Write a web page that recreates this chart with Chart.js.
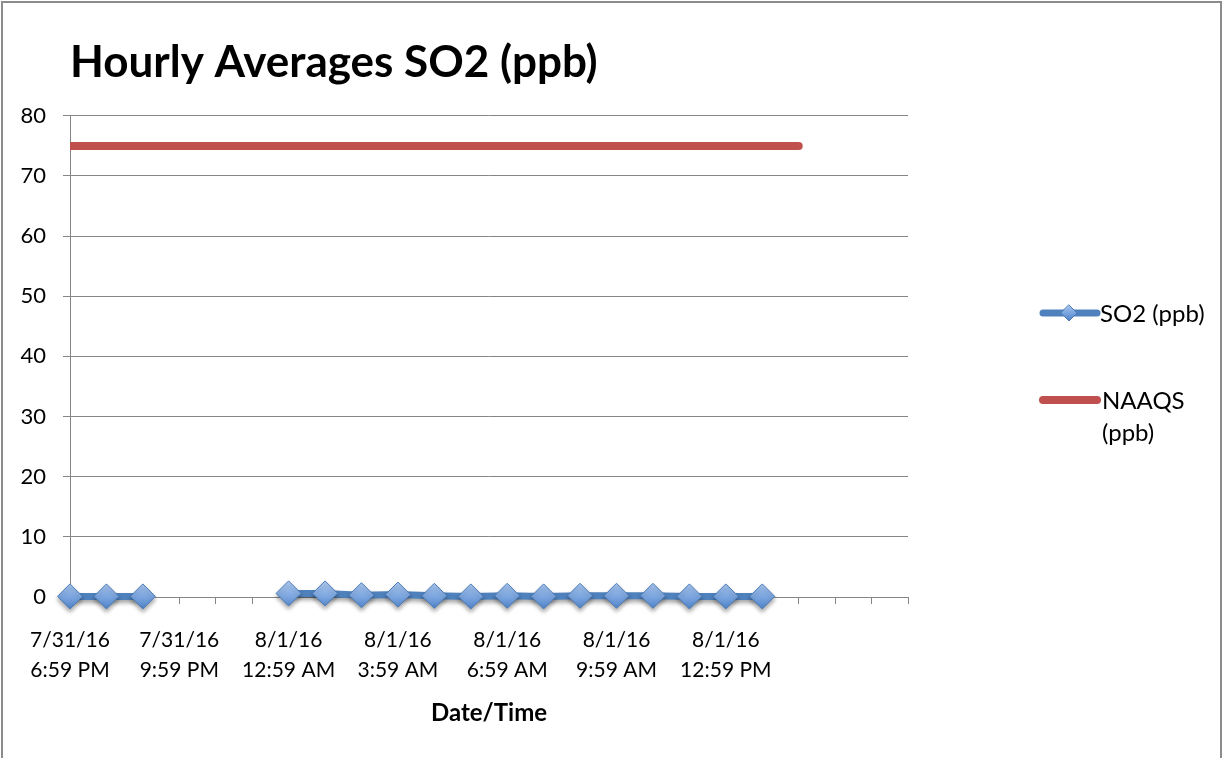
<!DOCTYPE html>
<html>
<head>
<meta charset="utf-8">
<script src="https://cdn.jsdelivr.net/npm/chart.js@4"></script>
<style>
  html, body { margin: 0; padding: 0; background: #fff; }
  #wrap { width: 1224px; height: 758px; position: relative; }
</style>
</head>
<body>
<div id="wrap"><canvas id="myChart" width="1224" height="758"></canvas></div>
<script>
// hourly categories (blank rows at the end of the sheet range)
var categories = [
  '7/31/16 6:59 PM', '7/31/16 7:59 PM', '7/31/16 8:59 PM', '7/31/16 9:59 PM',
  '7/31/16 10:59 PM', '7/31/16 11:59 PM', '8/1/16 12:59 AM', '8/1/16 1:59 AM',
  '8/1/16 2:59 AM', '8/1/16 3:59 AM', '8/1/16 4:59 AM', '8/1/16 5:59 AM',
  '8/1/16 6:59 AM', '8/1/16 7:59 AM', '8/1/16 8:59 AM', '8/1/16 9:59 AM',
  '8/1/16 10:59 AM', '8/1/16 11:59 AM', '8/1/16 12:59 PM', '8/1/16 1:59 PM',
  '8/1/16 2:59 PM', '', '', ''
];
var so2 = [0.1, 0.1, 0.1, null, null, null, 0.6, 0.6, 0.3, 0.4, 0.2, 0.1,
           0.2, 0.1, 0.2, 0.2, 0.2, 0.1, 0.1, 0.1, null, null, null, null];
var naaqs = [75, 75, 75, 75, 75, 75, 75, 75, 75, 75, 75, 75, 75, 75, 75, 75,
             75, 75, 75, 75, 75, null, null, null];
var labelEvery = 3;
var yTicks = { min: 0, max: 80, step: 10 };

var FONT = 'Lato, "Open Sans", sans-serif';
var BLUE = '#4F81BD';
var RED = '#C0504D';
var GRID = '#868686';

var ctx = document.getElementById('myChart').getContext('2d');

function diamondFill(y0, y1) {
  var g = ctx.createLinearGradient(0, y0, 0, y1);
  g.addColorStop(0, '#A7C6F0');
  g.addColorStop(0.5, '#7BA5DF');
  g.addColorStop(1, '#4C80C6');
  return g;
}

var frame = {
  id: 'frame',
  beforeDraw: function(chart) {
    var c = chart.ctx;
    c.save();
    c.strokeStyle = '#8c8c8c';
    c.lineWidth = 2;
    c.strokeRect(2, 2, 1219, 800);
    c.restore();
  },
  beforeDatasetDraw: function(chart, args) {
    if (args.index !== 0) return;
    var c = chart.ctx;
    c.save();
    c.shadowColor = 'rgba(0,0,0,0.35)';
    c.shadowBlur = 4;
    c.shadowOffsetY = 3;
  },
  afterDatasetDraw: function(chart, args) {
    if (args.index !== 0) return;
    chart.ctx.restore();
  }
};

var sideLegend = {
  id: 'sideLegend',
  afterDraw: function(chart) {
    var c = chart.ctx;
    c.save();
    c.lineCap = 'round';
    // SO2
    c.strokeStyle = BLUE;
    c.lineWidth = 7;
    c.beginPath(); c.moveTo(1043, 313); c.lineTo(1097, 313); c.stroke();
    c.fillStyle = diamondFill(305, 321);
    c.strokeStyle = '#4A7BB8';
    c.lineWidth = 1;
    c.beginPath();
    c.moveTo(1069, 305); c.lineTo(1077, 313); c.lineTo(1069, 321); c.lineTo(1061, 313);
    c.closePath(); c.fill(); c.stroke();
    // NAAQS
    c.strokeStyle = RED;
    c.lineWidth = 8;
    c.beginPath(); c.moveTo(1043, 400); c.lineTo(1097, 400); c.stroke();
    c.fillStyle = '#000';
    c.font = '24px ' + FONT;
    c.textBaseline = 'middle';
    c.fillText(chart.data.datasets[0].label, 1100, 314);
    var parts = chart.data.datasets[1].label.split(' ');
    c.fillText(parts[0], 1102, 401);
    c.fillText(parts[1], 1102, 433);
    c.restore();
  }
};

var chart = new Chart(ctx, {
  type: 'line',
  data: {
    labels: categories,
    datasets: [
      {
        label: 'SO2 (ppb)',
        data: so2,
        borderColor: BLUE,
        borderWidth: 7,
        backgroundColor: '#6E9CD8',
        pointStyle: 'rectRot',
        pointRadius: 12.5,
        pointBackgroundColor: diamondFill(584, 610),
        pointBorderColor: '#4A7BB8',
        pointBorderWidth: 1,
        spanGaps: false,
        clip: false,
        tension: 0
      },
      {
        label: 'NAAQS (ppb)',
        data: naaqs,
        borderColor: RED,
        borderWidth: 8,
        borderCapStyle: 'round',
        pointRadius: 0,
        clip: { left: 0, top: false, right: false, bottom: false },
        tension: 0
      }
    ]
  },
  options: {
    responsive: false,
    animation: false,
    layout: { padding: { left: 0, right: 316, top: 0, bottom: 0 } },
    plugins: {
      legend: { display: false },
      tooltip: { enabled: false },
      title: {
        display: true,
        fullSize: false,
        text: 'Hourly Averages SO2 (ppb)',
        align: 'start',
        color: '#000',
        font: { family: FONT, size: 44, weight: 'bold', lineHeight: 1.2 },
        padding: { top: 36, bottom: 27 }
      }
    },
    scales: {
      x: {
        offset: false,
        grid: { drawOnChartArea: false, drawTicks: true, tickLength: 7, color: GRID },
        border: { color: GRID, width: 1 },
        ticks: {
          autoSkip: false,
          maxRotation: 0,
          color: '#000',
          padding: 21,
          font: { family: FONT, size: 21, lineHeight: 1.45 },
          callback: function(v, i) {
            var s = categories[i];
            if (!s || i % labelEvery !== 0) return '';
            var k = s.indexOf(' ');
            return [s.slice(0, k), s.slice(k + 1)];
          }
        },
        title: {
          display: true,
          text: 'Date/Time',
          color: '#000',
          font: { family: FONT, size: 24, weight: 'bold', lineHeight: 1.2 },
          padding: { top: 0, bottom: 30 }
        },
        afterFit: function(s) { s.height = 161; }
      },
      y: {
        min: yTicks.min,
        max: yTicks.max,
        grid: { color: GRID, tickLength: 7 },
        border: { color: GRID, width: 1 },
        ticks: {
          stepSize: yTicks.step,
          color: '#000',
          padding: 17,
          font: { family: FONT, size: 22 }
        },
        afterFit: function(s) { s.width = 70; }
      }
    }
  },
  plugins: [frame, sideLegend]
});
</script>
</body>
</html>
